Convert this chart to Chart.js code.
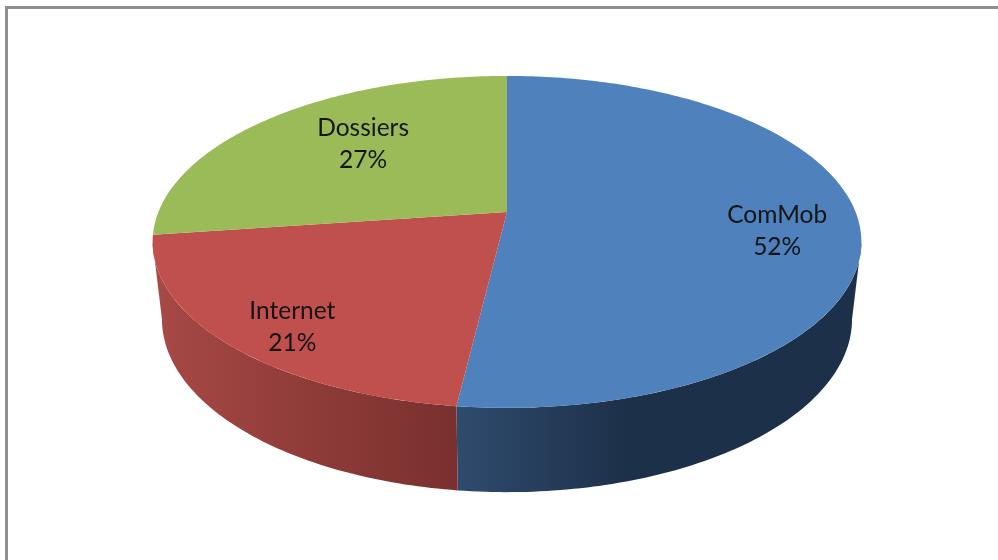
<!DOCTYPE html>
<html>
<head>
<meta charset="utf-8">
<title>Pie</title>
<script src="https://cdn.jsdelivr.net/npm/chart.js@4/dist/chart.umd.js"></script>
<style>
  html, body { margin: 0; padding: 0; background: #fff; overflow: hidden; }
  #frame { position: absolute; left: 5px; top: 6px; width: 1000px; height: 560px; border-top: 3px solid #8e8e8e; border-left: 3px solid #8e8e8e; }
  #pieChart { position: absolute; left: 0; top: 0; }
</style>
</head>
<body>
<div id="frame"></div>
<canvas id="pieChart" width="998" height="560"></canvas>
<script>
const categories = ["ComMob", "Internet", "Dossiers"];
const shares = [51.9, 20.9, 27.2];
const topColors = ["#4f81bd", "#c0504d", "#9bbb59"];
// side wall shades, left to right
const sideColors = [
  ["#2f4b6e", "#1d3049", "#1d3049"],
  ["#a84946", "#8f3c39", "#79302e"],
  ["#76923c", "#76923c", "#76923c"],
];
const labelRadii = [0.77, 0.79, 0.585];
const labelShifts = [12, 14, -10];

// perspective of the disc: k is the tilt, the two faces differ a little
const tilt = 0.18;
const topFace = { x: 507, y: 212, rx: 348.6, ry: 160.6 };
const bottomFace = { x: 507, y: 288, rx: 339.4, ry: 167.4 };

function project(face, a, r) {
  const px = r * Math.cos(a);
  const py = r * Math.sin(a);
  const w = 1 - tilt * py;
  return { x: face.x + (face.rx * px) / w, y: face.y + (face.ry * py) / w };
}

function arcPoints(face, from, to) {
  const steps = Math.max(2, Math.ceil(Math.abs(to - from) * 60));
  const pts = [];
  for (let i = 0; i <= steps; i++) {
    pts.push(project(face, from + ((to - from) * i) / steps, 1));
  }
  return pts;
}

function fillPath(ctx, pts, fill) {
  ctx.beginPath();
  pts.forEach((p, i) => (i ? ctx.lineTo(p.x, p.y) : ctx.moveTo(p.x, p.y)));
  ctx.closePath();
  ctx.fillStyle = fill;
  ctx.fill();
}

const pie3d = {
  id: "pie3d",
  beforeDatasetDraw(chart, args) {
    const ctx = chart.ctx;
    const arcs = args.meta.data;
    const lo = Math.asin(tilt);
    const hi = Math.PI - lo;

    // side wall first, the top face covers the rest
    arcs.forEach((arc, i) => {
      const from = Math.max(arc.startAngle, lo);
      const to = Math.min(arc.endAngle, hi);
      if (to <= from) return;
      const upper = arcPoints(topFace, from, to);
      const lower = arcPoints(bottomFace, from, to);
      const xs = upper.concat(lower).map((p) => p.x);
      const grad = ctx.createLinearGradient(Math.min(...xs), 0, Math.max(...xs), 0);
      const stops = i === 0 ? [0, 0.42, 1] : [0, 0.5, 1];
      sideColors[i].forEach((c, j) => grad.addColorStop(stops[j], c));
      fillPath(ctx, upper.concat(lower.reverse()), grad);
    });

    arcs.forEach((arc, i) => {
      const pts = arcPoints(topFace, arc.startAngle, arc.endAngle);
      pts.push({ x: topFace.x, y: topFace.y });
      fillPath(ctx, pts, topColors[i]);
    });

    ctx.font = '24.5px Lato, "Open Sans", sans-serif';
    ctx.fillStyle = "#151515";
    ctx.textAlign = "center";
    ctx.textBaseline = "middle";
    arcs.forEach((arc, i) => {
      const mid = (arc.startAngle + arc.endAngle) / 2;
      const p = project(topFace, mid, labelRadii[i]);
      const total = shares.reduce((a, b) => a + b, 0);
      const y = p.y + labelShifts[i];
      ctx.fillText(categories[i], p.x, y - 16);
      ctx.fillText(Math.round((shares[i] / total) * 100) + "%", p.x, y + 16);
    });
    return false;
  },
};

document.addEventListener("DOMContentLoaded", function () {
  const ctx = document.getElementById("pieChart").getContext("2d");
  new Chart(ctx, {
    type: "pie",
    data: {
      labels: categories,
      datasets: [{ data: shares, backgroundColor: topColors, borderWidth: 0 }],
    },
    options: {
      responsive: false,
      animation: false,
      plugins: { legend: { display: false }, tooltip: { enabled: false } },
    },
    plugins: [pie3d],
  });
});
</script>
</body>
</html>
